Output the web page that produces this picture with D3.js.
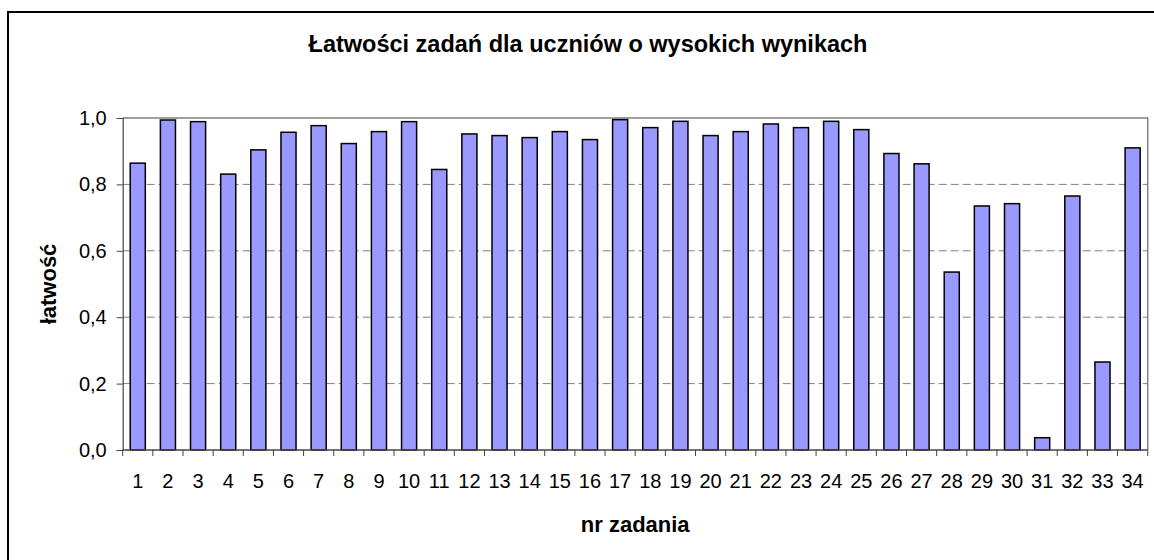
<!DOCTYPE html>
<html>
<head>
<meta charset="utf-8">
<script src="https://cdn.jsdelivr.net/npm/d3@7"></script>
<style>
  body { margin: 0; background: #fff; }
  svg { display: block; font-family: "Liberation Sans", Arial, sans-serif; }
</style>
</head>
<body>
<svg></svg>
<script>
let tasks = d3.range(1, 35).map(String);
let easiness = [
    0.864, 0.994, 0.989, 0.831, 0.904, 0.957, 0.977, 0.923, 0.959, 0.989,
    0.845, 0.952, 0.947, 0.941, 0.959, 0.935, 0.995, 0.971, 0.990, 0.947,
    0.959, 0.982, 0.971, 0.990, 0.965, 0.893, 0.862, 0.536, 0.735, 0.742,
    0.037, 0.765, 0.265, 0.910
];
let yTicks = [0, 0.2, 0.4, 0.6, 0.8, 1.0];
let title = 'Łatwości zadań dla uczniów o wysokich wynikach';
let xTitle = 'nr zadania';
let yTitle = 'łatwość';

let data = tasks.map((t, i) => ({ task: t, value: easiness[i] }));

let width = 1154;
let height = 560;
let plot = { left: 122.7, right: 1147.7, top: 118, bottom: 450 };

let xScale = d3.scaleBand()
                .domain(tasks)
                .range([plot.left, plot.right])
                .paddingInner(0.5)
                .paddingOuter(0.25);

let bandScale = d3.scaleBand()
                .domain(tasks)
                .range([plot.left, plot.right]);

let yScale = d3.scaleLinear()
                .domain([0, 1])
                .range([plot.bottom, plot.top]);

let fmt = v => d3.format('.1f')(v).replace('.', ',');

let svg = d3.select('svg')
    .attr('width', width)
    .attr('height', height);

// chart frame
svg.append('rect')
    .attr('x', 8)
    .attr('y', 12)
    .attr('width', 1162)
    .attr('height', 570)
    .attr('fill', 'none')
    .attr('stroke', '#000')
    .attr('stroke-width', 2);

// dashed grid
svg.append('g')
    .selectAll('line')
    .data(yTicks.filter(v => v > 0 && v < 1))
    .enter()
    .append('line')
        .attr('x1', plot.left)
        .attr('x2', plot.right)
        .attr('y1', d => yScale(d))
        .attr('y2', d => yScale(d))
        .attr('stroke', '#808080')
        .attr('stroke-width', 1)
        .attr('stroke-dasharray', '8,4');

// plot area top and right border
svg.append('path')
    .attr('d', `M${plot.left},${yScale(1)}H${plot.right}V${plot.bottom}`)
    .attr('fill', 'none')
    .attr('stroke', '#808080')
    .attr('stroke-width', 1.5);

svg.selectAll('rect.bar')
    .data(data)
    .enter()
    .append('rect')
        .attr('class', 'bar')
        .attr('x', d => xScale(d.task))
        .attr('y', d => yScale(d.value))
        .attr('width', xScale.bandwidth())
        .attr('height', d => yScale(0) - yScale(d.value))
        .attr('fill', '#9999ff')
        .attr('stroke', '#000')
        .attr('stroke-width', 1.5);

// y axis
let yAxis = d3.axisLeft(yScale)
                .tickValues(yTicks)
                .tickFormat(fmt)
                .tickSize(6)
                .tickPadding(10);

let gy = svg.append('g')
    .attr('transform', `translate(${plot.left}, 0)`)
    .call(yAxis);

gy.select('.domain').attr('stroke', '#444').attr('stroke-width', 1.2);
gy.selectAll('.tick line').attr('stroke', '#444');
gy.selectAll('.tick text')
    .attr('fill', '#000')
    .style('font-size', '20px');

// x axis, ticks on category boundaries
let gx = svg.append('g')
    .attr('transform', `translate(0, ${plot.bottom})`);

gx.append('line')
    .attr('x1', plot.left)
    .attr('x2', plot.right)
    .attr('stroke', '#444')
    .attr('stroke-width', 1.5);

gx.selectAll('line.tick')
    .data(tasks.concat(['end']))
    .enter()
    .append('line')
        .attr('class', 'tick')
        .attr('x1', d => d === 'end' ? plot.right : bandScale(d))
        .attr('x2', d => d === 'end' ? plot.right : bandScale(d))
        .attr('y1', 0)
        .attr('y2', 6)
        .attr('stroke', '#444');

gx.selectAll('text')
    .data(tasks)
    .enter()
    .append('text')
        .attr('x', d => bandScale(d) + bandScale.bandwidth() / 2)
        .attr('y', 38)
        .style('text-anchor', 'middle')
        .style('font-size', '20px')
        .text(d => d);

svg.append('text')
    .attr('x', 588)
    .attr('y', 52)
    .style('text-anchor', 'middle')
    .style('font-size', '23.5px')
    .style('font-weight', 'bold')
    .text(title);

svg.append('text')
    .attr('x', (plot.left + plot.right) / 2)
    .attr('y', 532)
    .style('text-anchor', 'middle')
    .style('font-size', '22px')
    .style('font-weight', 'bold')
    .text(xTitle);

svg.append('text')
    .attr('transform', 'rotate(-90)')
    .attr('x', -(plot.top + plot.bottom) / 2)
    .attr('y', 56)
    .style('text-anchor', 'middle')
    .style('font-size', '22px')
    .style('font-weight', 'bold')
    .text(yTitle);
</script>
</body>
</html>
